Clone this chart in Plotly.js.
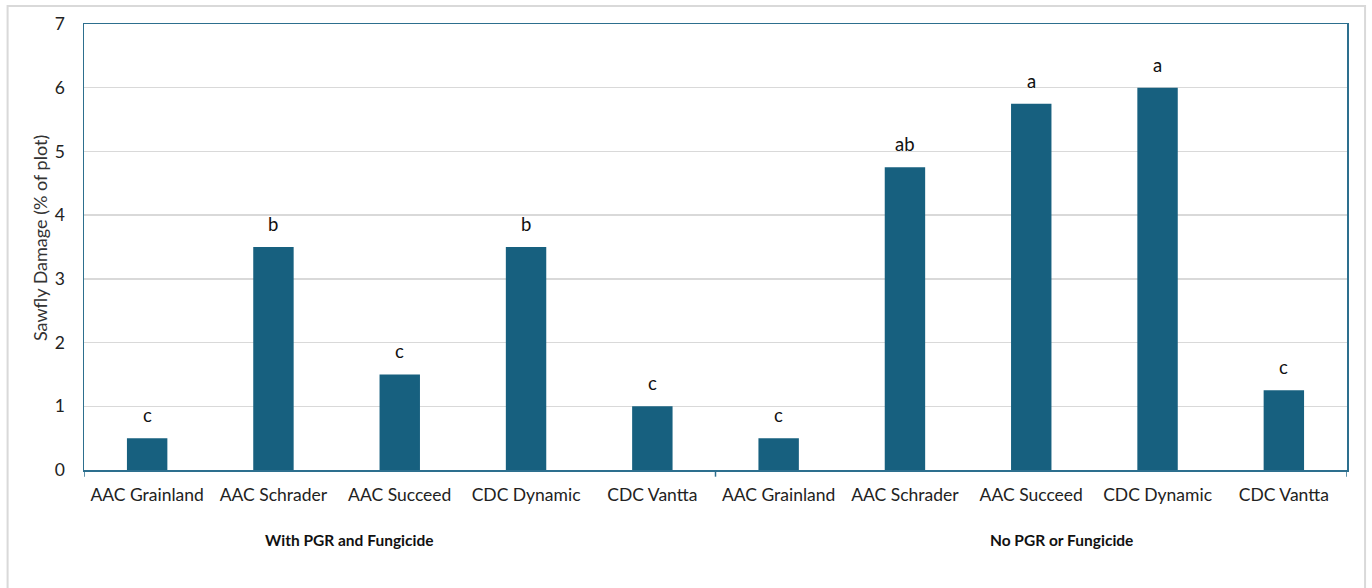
<!DOCTYPE html>
<html>
<head>
<meta charset="utf-8">
<script src="https://cdn.plot.ly/plotly-3.0.1.min.js"></script>
<style>html,body{margin:0;padding:0;background:#fff;}#chart{width:1372px;height:588px;}</style>
</head>
<body>
<div id="chart"></div>
<script>
const groups = ["With PGR and Fungicide", "No PGR or Fungicide"];
const varieties = ["AAC Grainland", "AAC Schrader", "AAC Succeed", "CDC Dynamic", "CDC Vantta"];
const damageWith = [0.5, 3.5, 1.5, 3.5, 1.0];
const damageNo = [0.5, 4.75, 5.75, 6.0, 1.25];
const lettersWith = ["c", "b", "c", "b", "c"];
const lettersNo = ["c", "ab", "a", "a", "c"];
const yTicks = [0, 1, 2, 3, 4, 5, 6, 7];

const labels = varieties.concat(varieties);
const values = damageWith.concat(damageNo);
const letters = lettersWith.concat(lettersNo);
const idx = labels.map((_, i) => i);

const barColor = "#17607F";
const axisColor = "#2D6F8E";
const font = "Lato, 'Open Sans', sans-serif";
const groupShift = [-50, 30];

const trace = {
  type: "bar",
  x: idx,
  y: values,
  marker: {color: barColor},
  width: 0.32,
  hoverinfo: "y"
};

const annotations = idx.map(i => ({
  x: i, y: values[i], xref: "x", yref: "y",
  text: letters[i], showarrow: false,
  yanchor: "middle", yshift: 23,
  font: {family: font, size: 18.5, color: "#111"}
}));
groups.forEach((g, gi) => {
  annotations.push({
    x: gi * varieties.length + (varieties.length - 1) / 2,
    y: -0.157, xref: "x", yref: "paper", xshift: groupShift[gi],
    text: "<b>" + g + "</b>", showarrow: false,
    yanchor: "middle",
    font: {family: font, size: 15.5, color: "#111"}
  });
});
annotations.push({
  x: 0, y: 0.52, xref: "paper", yref: "paper", xshift: -44,
  text: "Sawfly Damage (% of plot)", textangle: -90, showarrow: false,
  xanchor: "center", yanchor: "middle",
  font: {family: font, size: 18, color: "#333"}
});

const shapes = [];
for (let g = 0; g <= groups.length; g++) {
  const xb = g * varieties.length - 0.5;
  shapes.push({type: "line", xref: "x", yref: "paper", x0: xb, x1: xb, y0: 0, y1: -0.015,
    line: {color: axisColor, width: 1.5}});
}
shapes.push({type: "rect", xref: "paper", yref: "paper", x0: -0.0605, x1: 1.0143, y0: -0.5, y1: 1.0404,
  line: {color: "#D9D9D9", width: 2}, layer: "below"});

const layout = {
  width: 1372, height: 588,
  margin: {l: 84, r: 25, t: 24, b: 118},
  paper_bgcolor: "#fff", plot_bgcolor: "#fff",
  showlegend: false,
  font: {family: font, color: "#222"},
  xaxis: {
    tickvals: idx, ticktext: labels,
    range: [-0.5, labels.length - 0.5],
    showgrid: false, zeroline: false,
    showline: true, linecolor: axisColor, linewidth: 1.5, mirror: true,
    ticks: "", ticklabelstandoff: 8,
    tickfont: {family: font, size: 17.5, color: "#222"}
  },
  yaxis: {
    range: [0, 7], tickvals: yTicks,
    showgrid: true, gridcolor: "#D9D9D9", gridwidth: 1.3,
    zeroline: false,
    showline: true, linecolor: axisColor, linewidth: 1.5, mirror: true,
    ticks: "", ticklabelstandoff: 14,
    tickfont: {family: font, size: 17.5, color: "#222"}
  },
  annotations: annotations,
  shapes: shapes
};

Plotly.newPlot("chart", [trace], layout, {displayModeBar: false, staticPlot: true});
</script>
</body>
</html>
